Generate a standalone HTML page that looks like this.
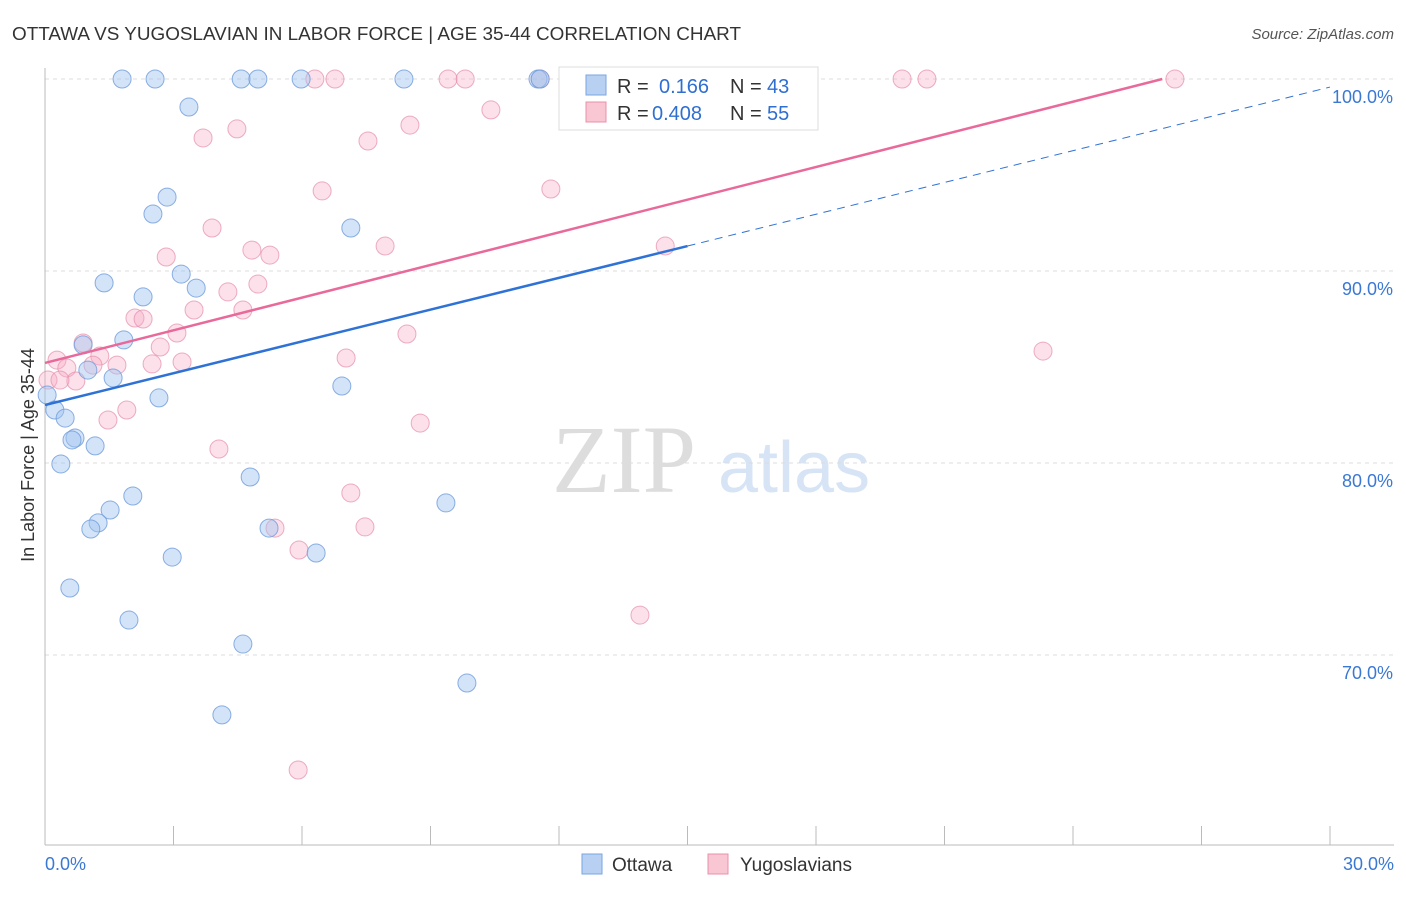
<!DOCTYPE html>
<html><head><meta charset="utf-8"><style>
body{margin:0;background:#fff;font-family:"Liberation Sans",sans-serif;}
svg text{font-family:"Liberation Sans",sans-serif;}
</style></head><body>
<svg id="chart" width="1406" height="892" xmlns="http://www.w3.org/2000/svg">
<text x="12" y="40" font-size="18" fill="#333" textLength="729" lengthAdjust="spacingAndGlyphs">OTTAWA VS YUGOSLAVIAN IN LABOR FORCE | AGE 35-44 CORRELATION CHART</text>
<text x="1394" y="39" font-size="15" fill="#555" text-anchor="end" font-style="italic">Source: ZipAtlas.com</text>
<g>
<text x="552" y="492" font-size="96" fill="#ddd" font-family="Liberation Serif" style="font-family:'Liberation Serif',serif">ZIP</text>
<text x="718" y="492" font-size="72" fill="#d6e4f5">atlas</text>
</g>
<g id="grid"></g>
<g id="axes"></g>
<g id="marks"></g>
<g id="trends"></g>
<text transform="translate(34,455) rotate(-90)" font-size="18" fill="#333" text-anchor="middle">In Labor Force | Age 35-44</text>
<g>
<rect x="559" y="67" width="259" height="63" fill="#fff" stroke="#ddd"/>
<rect x="586" y="75" width="20" height="20" fill="#b8d0f2" stroke="#7aa6e0"/>
<rect x="586" y="102" width="20" height="20" fill="#f9c6d4" stroke="#e890aa"/>
<text x="617" y="93" font-size="20" fill="#333">R = </text><text x="659" y="93" font-size="20" fill="#2f6fd1">0.166</text>
<text x="730" y="93" font-size="20" fill="#333">N = </text><text x="767" y="93" font-size="20" fill="#2f6fd1">43</text>
<text x="617" y="120" font-size="20" fill="#333">R = </text><text x="652" y="120" font-size="20" fill="#2f6fd1">0.408</text>
<text x="730" y="120" font-size="20" fill="#333">N = </text><text x="767" y="120" font-size="20" fill="#2f6fd1">55</text>
</g>
<g>
<rect x="582" y="854" width="20" height="20" fill="#b8d0f2" stroke="#7aa6e0"/>
<text x="612" y="871" font-size="19" fill="#333">Ottawa</text>
<rect x="708" y="854" width="20" height="20" fill="#f9c6d4" stroke="#e890aa"/>
<text x="740" y="871" font-size="19" fill="#333">Yugoslavians</text>
</g>
</svg>
<script>
const xTicks=[0,3,6,9,12,15,18,21,24,27,30];
const yTicks=[70,80,90,100];
const yTickLabels=["70.0%","80.0%","90.0%","100.0%"];
const ottawaX=[1.80,2.57,4.58,4.97,5.98,8.38,11.51,11.56,3.36,2.85,2.52,7.14,1.38,3.18,3.53,2.29,1.84,0.89,1.00,1.59,0.05,0.23,0.47,2.66,6.93,0.70,0.63,1.17,0.37,2.05,4.79,1.52,1.24,1.07,5.23,9.36,2.97,6.33,0.58,1.96,4.62,4.13,9.85];
const ottawaY=[100,100,100,100,100,100,100,100,98.54,93.85,92.97,92.24,89.38,89.84,89.11,88.65,86.41,86.15,84.84,84.43,83.54,82.76,82.34,83.39,84.01,81.30,81.20,80.89,79.95,78.28,79.27,77.55,76.88,76.56,76.61,77.92,75.10,75.31,73.49,71.82,70.57,66.88,68.54];
const yugoX=[6.30,6.77,9.41,9.81,12.61,15.48,20.01,20.59,26.38,11.56,10.41,4.48,3.69,8.52,7.54,6.47,11.81,3.90,4.83,5.25,2.83,7.94,14.48,4.97,4.27,3.48,4.62,2.10,2.29,3.08,8.45,0.89,2.69,0.28,1.28,1.68,2.50,3.20,7.03,0.51,1.12,0.72,0.07,1.91,1.47,8.76,4.06,7.14,5.37,7.47,5.93,23.30,13.89,5.91,0.35];
const yugoY=[100,100,100,100,100,100,100,100,100,100,98.39,97.40,96.93,97.60,96.77,94.17,94.27,92.24,91.09,90.83,90.73,91.30,91.30,89.32,88.91,87.97,87.97,87.55,87.50,86.77,86.72,86.25,86.04,85.36,85.57,85.10,85.16,85.26,85.47,84.95,85.10,84.27,84.32,82.76,82.24,82.08,80.73,78.44,76.61,76.67,75.47,85.83,72.08,64.01,84.32];
const ottawaTrend=[83.02,0.552];
const yugoTrend=[85.21,0.567];
const NS="http://www.w3.org/2000/svg";
const sx=v=>45+v*(1285/30);
const sy=v=>79+(100-v)*19.2;
function mk(tag,attrs,parent){const e=document.createElementNS(NS,tag);for(const k in attrs)e.setAttribute(k,attrs[k]);document.getElementById(parent).appendChild(e);return e;}
yTicks.forEach((t,i)=>{
 const l=mk('line',{x1:45,x2:1394,y1:sy(t),y2:sy(t),stroke:'#ddd','stroke-dasharray':'4,4'},'grid');
 
 
 const tx=mk('text',{x:1393,y:sy(t)+24,'font-size':18,fill:'#3a78d4','text-anchor':'end'},'axes');
 tx.textContent=yTickLabels[i];
 
 
});
const ax=mk('line',{x1:45,x2:45,y1:68,y2:845,stroke:'#bbb'},'axes');


const bx=mk('line',{x1:45,x2:1394,y1:845,y2:845,stroke:'#bbb'},'axes');


xTicks.forEach(t=>{
 const l=mk('line',{x1:sx(t),x2:sx(t),y1:826,y2:845,stroke:'#bbb'},'axes');
 
 
});
const xl0=mk('text',{x:45,y:870,'font-size':18,fill:'#3a78d4'},'axes');xl0.textContent='0.0%';


const xl1=mk('text',{x:1394,y:870,'font-size':18,fill:'#3a78d4','text-anchor':'end'},'axes');xl1.textContent='30.0%';


yugoX.forEach((x,i)=>{
 const c=mk('circle',{cx:sx(x),cy:sy(yugoY[i]),r:9,fill:'rgba(245,170,195,0.35)',stroke:'rgba(230,140,170,0.7)','stroke-width':1},'marks');
 
 
});
ottawaX.forEach((x,i)=>{
 const c=mk('circle',{cx:sx(x),cy:sy(ottawaY[i]),r:9,fill:'rgba(160,195,240,0.45)',stroke:'rgba(110,155,220,0.8)','stroke-width':1},'marks');
 
 
});
const f=(tr,x)=>tr[0]+tr[1]*x;
const b1=mk('line',{x1:sx(0),y1:sy(f(ottawaTrend,0)),x2:sx(15),y2:sy(f(ottawaTrend,15)),stroke:'#2f72d6','stroke-width':2.5},'trends');


const b2=mk('line',{x1:sx(15),y1:sy(f(ottawaTrend,15)),x2:sx(30),y2:sy(f(ottawaTrend,30)),stroke:'#2f72d6','stroke-width':1,'stroke-dasharray':'8,6'},'trends');


const xe=(100-yugoTrend[0])/yugoTrend[1];
const p1=mk('line',{x1:sx(0),y1:sy(f(yugoTrend,0)),x2:sx(xe),y2:sy(f(yugoTrend,xe)),stroke:'#e8699a','stroke-width':2.5},'trends');


</script>
</body></html>
